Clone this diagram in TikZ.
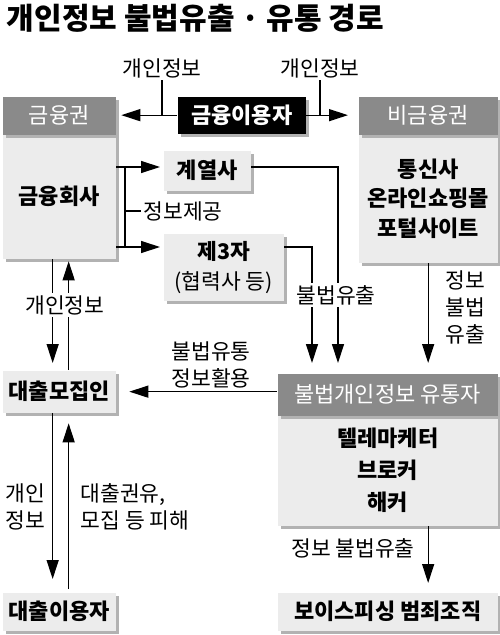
\documentclass[tikz,border=0pt]{standalone}
\usepackage{fontspec}
\setmainfont{Noto Sans CJK KR}
\usepackage{xcolor}
\definecolor{dnxam}{HTML}{8A8A8A}
\definecolor{dnxamnhat}{HTML}{ECECEC}
\definecolor{dnbong}{HTML}{B2B2B2}
\def\mauxam{dnxam}
\def\maunen{dnxamnhat}
\def\maubong{dnbong}
\usetikzlibrary{arrows.meta,shadows,calc}

\begin{document}
\begin{tikzpicture}[x=1pt,y=-1pt,declare function={wl=113;wm=139;wr=220;},
	hop/.style={anchor=north west,inner sep=0pt,align=center,fill=\maunen,
		drop shadow={shadow xshift=3pt,shadow yshift=-3pt,fill=\maubong,opacity=1},
		font=\bfseries\fontsize{22}{29.5}\selectfont},
	dau/.style={hop,fill=\mauxam,text=white,font=\fontsize{22}{26}\selectfont},
	nhan/.style={inner sep=2pt,align=center,font=\fontsize{21.5}{27}\selectfont},
	muiten/.style={-{Triangle[length=19pt,width=12pt]}},
	line width=1.3pt]
		\useasboundingbox (0,0) rectangle (500,635);
		\path (3,18) node[anchor=west,font=\bfseries\fontsize{30}{32}\selectfont] (tde) {개인정보 불법유출 · 유통 경로};
		% hop
		\path (2,134) node[hop,minimum width=wl,minimum height=124] (gbody) {금융회사}
		(2,96) node[dau,minimum width=wl,minimum height=38] (gwon) {금융권}
		(358,134) node[hop,minimum width=wm,minimum height=128] (ngbody) {통신사\\온라인쇼핑몰\\포털사이트}
		(358,96) node[dau,minimum width=wm,minimum height=38] (ngwon) {비금융권}
		(177,96) node[hop,drop shadow={opacity=0},fill=black,text=white,minimum width=128,minimum height=37] (user) {금융이용자}
		(163,150) node[hop,minimum width=87,minimum height=40] (gye) {계열사}
		(163,233) node[hop,font=\fontsize{21.5}{30}\selectfont,minimum width=120,minimum height=67] (third) {\textbf{제3자}\\(협력사 등)}
		(277,415) node[hop,font=\bfseries\fontsize{22}{32}\selectfont,minimum width=wr,minimum height=110] (distbody) {텔레마케터\\브로커\\해커}
		(277,373) node[dau,minimum width=wr,minimum height=42] (dist) {불법개인정보 유통자}
		(277,592) node[hop,minimum width=wr,minimum height=38] (voice) {보이스피싱 범죄조직}
		(2,370) node[hop,minimum width=wl,minimum height=42] (moji) {대출모집인}
		(2,592) node[hop,minimum width=wl,minimum height=38] (loanuser) {대출이용자}
		;
		% nhan tren
		\path (162,68) node[nhan] (lbg1) {개인정보}
		(320,68) node[nhan] (lbg2) {개인정보};
		\draw (lbg1.south) -- (lbg1.south |- user.west);
		\draw (lbg2.south) -- (lbg2.south |- user.east);
		\draw[muiten,shorten >=5pt] (user.west) -- (user.west -| gwon.east);
		\draw[muiten,shorten >=10pt] (user.east) -- (user.east -| ngwon.west);
		% nhanh
		\coordinate (re1) at (125,167);
		\coordinate (re2) at (125,247);
		\coordinate (re3) at (125,211);
		\draw (re1) -- (re2);
		\draw[muiten,shorten >=3pt] (gbody.east |- re1) -- (gye.west |- re1);
		\draw[muiten,shorten >=3pt] (gbody.east |- re2) -- (third.west |- re2);
		\path (141,211) node[nhan,anchor=west] (lbcc) {정보제공};
		\draw (re3) -- (lbcc.west);
		\draw[muiten,shorten >=10pt] (gye.east |- re1) -| ([xshift=61pt]dist.north west);
		\draw[muiten,shorten >=10pt] (third.east |- re2) -| ([xshift=35pt]dist.north west);
		\path (336,295) node[nhan,fill=white] (lbrr) {불법유출};
		\draw[muiten,shorten >=10pt] (ngbody.south) -- (ngbody.south |- dist.north);
		\path (465,307) node[nhan] (lbng) {정보\\불법\\유출};
		% trai
		\draw[muiten,shorten >=13pt] (moji.east -| dist.west) -- (moji.east);
		\path (211,365) node[nhan] (lbht) {불법유통\\정보활용};
		\draw[muiten,shorten >=7pt] ([xshift=-6.5pt]gbody.south) -- ([xshift=-6.5pt]moji.north);
		\draw[muiten,shorten >=2pt] ([xshift=9.5pt]moji.north) -- ([xshift=9.5pt]gbody.south);
		\path (65,305) node[nhan,fill=white] (lbgm) {개인정보};
		\draw[muiten,shorten >=13pt] ([xshift=-6.5pt]moji.south) -- ([xshift=-6.5pt]loanuser.north);
		\draw[muiten,shorten <=3pt,shorten >=10pt] ([xshift=9.5pt]loanuser.north) -- ([xshift=9.5pt]moji.south);
		\path (25,507) node[nhan] (lbml) {개인\\정보}
		(78,507) node[nhan,anchor=west,align=left] (lbmp) {대출권유,\\모집 등 피해};
		\draw[muiten,shorten >=9pt] (ngbody.south |- distbody.south) -- (ngbody.south |- voice.north);
		\path (353,548) node[nhan] (lbvc) {정보 불법유출};
\end{tikzpicture}
\end{document}
